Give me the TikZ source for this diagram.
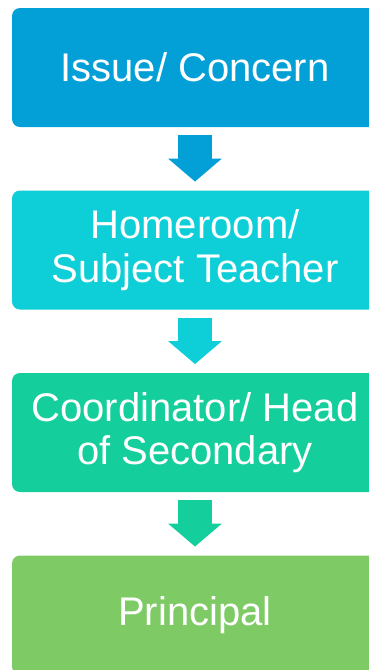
\documentclass[tikz,border=0pt]{standalone}
\usepackage{fontspec}
\setmainfont{Liberation Sans}
\usepackage{tikz}
\usetikzlibrary{positioning,arrows.meta}

\definecolor{issuecol}{RGB}{3,160,216}
\definecolor{teachercol}{RGB}{14,207,216}
\definecolor{coordcol}{RGB}{20,206,155}
\definecolor{principalcol}{RGB}{126,203,102}

\begin{document}
\begin{tikzpicture}[x=1pt,y=1pt,
	stage/.style={rounded corners=8pt,minimum width=366pt,minimum height=119pt,inner sep=0pt,outer sep=0pt,text=white,align=center,font=\fontsize{40}{43.5}\selectfont},
	down/.style={line width=34pt,-{Triangle[length=23pt,width=54pt,line width=0pt]},shorten <=8pt,shorten >=9pt}]
	\useasboundingbox (0,0) rectangle (369,-670);
	\node[stage,fill=issuecol] (issue) at (195,-67.5) {Issue/ Concern};
	\node[stage,fill=teachercol,below=63.5pt of issue] (teacher) {Homeroom/\\Subject Teacher};
	\node[stage,fill=coordcol,below=63.5pt of teacher] (coord) {Coordinator/ Head\\of Secondary};
	\node[stage,fill=principalcol,below=63.5pt of coord] (principal) {Principal};
	\draw [down,issuecol] (issue) -- (teacher);
	\draw [down,teachercol] (teacher) -- (coord);
	\draw [down,coordcol] (coord) -- (principal);
\end{tikzpicture}
\end{document}
